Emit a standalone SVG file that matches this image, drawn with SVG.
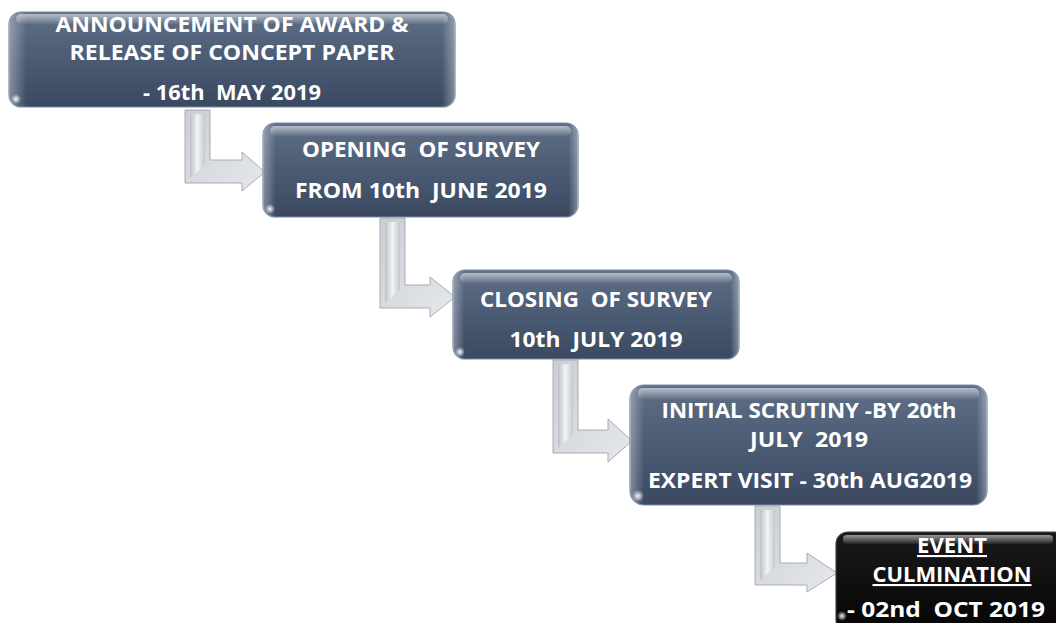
<svg xmlns="http://www.w3.org/2000/svg" width="1056" height="623" viewBox="0 0 1056 623">
<defs>
<linearGradient id="gBlue" x1="0" y1="0" x2="0" y2="1">
<stop offset="0" stop-color="#5f6f87"/>
<stop offset="0.5" stop-color="#4b5b74"/>
<stop offset="1" stop-color="#3a4960"/>
</linearGradient>
<linearGradient id="gBlack" x1="0" y1="0" x2="0" y2="1">
<stop offset="0" stop-color="#1a1a1a"/>
<stop offset="1" stop-color="#050505"/>
</linearGradient>
<linearGradient id="gGloss" x1="0" y1="0" x2="0" y2="1">
<stop offset="0" stop-color="#ffffff" stop-opacity="0.55"/>
<stop offset="1" stop-color="#ffffff" stop-opacity="0.05"/>
</linearGradient>
<linearGradient id="gEdge" x1="0" y1="0" x2="1" y2="0">
<stop offset="0" stop-color="#ffffff" stop-opacity="0.35"/>
<stop offset="0.04" stop-color="#ffffff" stop-opacity="0"/>
<stop offset="0.97" stop-color="#ffffff" stop-opacity="0"/>
<stop offset="1" stop-color="#ffffff" stop-opacity="0.35"/>
</linearGradient>
<linearGradient id="gArrow" x1="0" y1="0" x2="1" y2="1">
<stop offset="0" stop-color="#caced4"/>
<stop offset="1" stop-color="#e6e8ec"/>
</linearGradient>
<linearGradient id="gBar" x1="0" y1="0" x2="1" y2="0">
<stop offset="0" stop-color="#bcc0c7"/>
<stop offset="0.5" stop-color="#f2f3f5"/>
<stop offset="1" stop-color="#c4c8ce"/>
</linearGradient>
<radialGradient id="gGlint">
<stop offset="0" stop-color="#ffffff" stop-opacity="0.95"/>
<stop offset="1" stop-color="#ffffff" stop-opacity="0"/>
</radialGradient>
</defs>
<style>
.box{fill:url(#gBlue);stroke:#7a8aa3;stroke-width:1.2}
.boxk{fill:url(#gBlack);stroke:#444;stroke-width:1.2}
.gloss{fill:url(#gGloss)}
.edge{fill:url(#gEdge)}
.glint{fill:url(#gGlint)}
.t{font-family:"Open Sans",Lato,"Liberation Sans",sans-serif;font-weight:bold;font-size:21px;fill:#ffffff;text-anchor:middle;white-space:pre}
.arr{fill:url(#gArrow);stroke:#a8acb3;stroke-width:1}
.bar{fill:url(#gBar)}
</style>
<g id="connectors">
<path class="arr" d="M185,110 L210,110 L210,160 L242,160 L242,152 L265,172 L242,191 L242,183 L185,183 Z"/>
<path class="bar" d="M190,114 L205,114 L205,165 L190,178 Z"/>
<path class="arr" d="M380,218 L405,218 L405,285 L430,285 L430,277 L455,297 L430,317 L430,308 L380,308 Z"/>
<path class="bar" d="M385,222 L400,222 L400,290 L385,303 Z"/>
<path class="arr" d="M553,360 L578,360 L578,430 L608,430 L608,419 L632,441 L608,462 L608,453 L553,453 Z"/>
<path class="bar" d="M558,364 L573,364 L573,435 L558,448 Z"/>
<path class="arr" d="M755,506 L780,506 L780,563 L807,563 L807,553 L837,573 L807,592 L807,585 L755,585 Z"/>
<path class="bar" d="M760,510 L775,510 L775,568 L760,580 Z"/>
</g>
<g id="node1">
<rect class="box" x="9" y="12" width="446" height="95" rx="12"/>
<rect class="edge" x="9" y="12" width="446" height="95" rx="12"/>
<rect class="gloss" x="16" y="14" width="432" height="10" rx="5"/>
<ellipse class="glint" cx="16" cy="99" rx="5" ry="5"/>
<text class="t" x="232" y="32" textLength="353" lengthAdjust="spacingAndGlyphs">ANNOUNCEMENT OF AWARD &amp;</text>
<text class="t" x="232" y="60" textLength="325" lengthAdjust="spacingAndGlyphs">RELEASE OF CONCEPT PAPER</text>
<text class="t" x="232" y="100" textLength="178" lengthAdjust="spacingAndGlyphs">- 16th  MAY 2019</text>
</g>
<g id="node2">
<rect class="box" x="263" y="123" width="315" height="94" rx="12"/>
<rect class="edge" x="263" y="123" width="315" height="94" rx="12"/>
<rect class="gloss" x="270" y="126" width="301" height="10" rx="5"/>
<ellipse class="glint" cx="270" cy="209" rx="5" ry="5"/>
<text class="t" x="421" y="157" textLength="238" lengthAdjust="spacingAndGlyphs">OPENING  OF SURVEY</text>
<text class="t" x="421" y="198" textLength="252" lengthAdjust="spacingAndGlyphs">FROM 10th  JUNE 2019</text>
</g>
<g id="node3">
<rect class="box" x="453" y="270" width="286" height="89" rx="12"/>
<rect class="edge" x="453" y="270" width="286" height="89" rx="12"/>
<rect class="gloss" x="460" y="273" width="272" height="10" rx="5"/>
<ellipse class="glint" cx="460" cy="352" rx="5" ry="5"/>
<text class="t" x="596" y="307" textLength="232" lengthAdjust="spacingAndGlyphs">CLOSING  OF SURVEY</text>
<text class="t" x="596" y="347" textLength="173" lengthAdjust="spacingAndGlyphs">10th  JULY 2019</text>
</g>
<g id="node4">
<rect class="box" x="630" y="385" width="357" height="120" rx="14"/>
<rect class="edge" x="630" y="385" width="357" height="120" rx="14"/>
<rect class="gloss" x="638" y="388" width="341" height="11" rx="5"/>
<ellipse class="glint" cx="638" cy="496" rx="6" ry="6"/>
<text class="t" x="809" y="418" textLength="295" lengthAdjust="spacingAndGlyphs">INITIAL SCRUTINY -BY 20th</text>
<text class="t" x="809" y="447" textLength="118" lengthAdjust="spacingAndGlyphs">JULY  2019</text>
<text class="t" x="810" y="488" textLength="324" lengthAdjust="spacingAndGlyphs">EXPERT VISIT - 30th AUG2019</text>
</g>
<g id="node5">
<rect class="boxk" x="836" y="532" width="230" height="100" rx="12"/>
<rect class="gloss" x="843" y="535" width="210" height="9" rx="4"/>
<ellipse class="glint" cx="842" cy="616" rx="5" ry="5"/>
<text class="t" x="952" y="553" text-decoration="underline" textLength="70" lengthAdjust="spacingAndGlyphs">EVENT</text>
<text class="t" x="952" y="582" text-decoration="underline" textLength="159" lengthAdjust="spacingAndGlyphs">CULMINATION</text>
<text class="t" x="946" y="617" textLength="198" lengthAdjust="spacingAndGlyphs">- 02nd  OCT 2019</text>
</g>
</svg>
